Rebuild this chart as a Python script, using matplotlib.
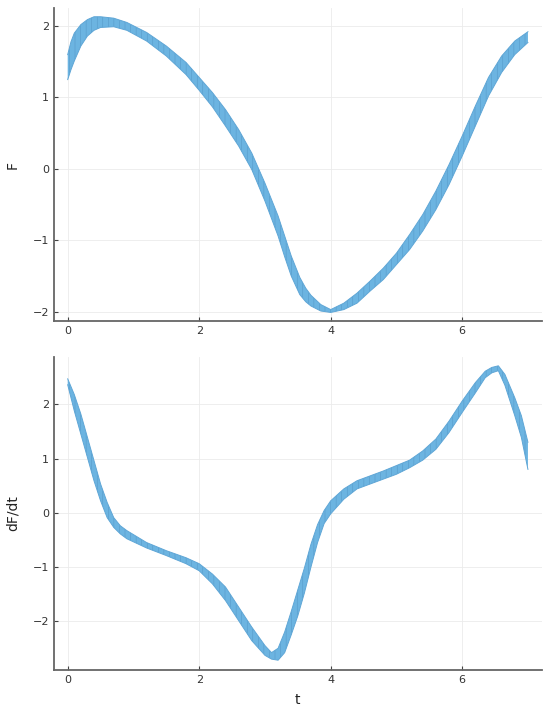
import matplotlib.pyplot as plt

# band edges (lower / upper envelope of the curve family)
t_f = [0.0, 0.05, 0.1, 0.2, 0.3, 0.4, 0.5, 0.7, 0.9, 1.2, 1.5, 1.8, 2.0, 2.2,
       2.4, 2.6, 2.8, 3.0, 3.2, 3.3, 3.4, 3.53, 3.62, 3.7, 3.85, 4.0, 4.2, 4.4,
       4.6, 4.8, 5.0, 5.2, 5.4, 5.6, 5.8, 6.0, 6.2, 6.4, 6.6, 6.8, 7.0]
f_hi = [1.60, 1.78, 1.90, 2.02, 2.09, 2.13, 2.13, 2.11, 2.05, 1.91, 1.72, 1.49,
        1.28, 1.07, 0.83, 0.55, 0.22, -0.20, -0.66, -0.94, -1.22, -1.52, -1.67,
        -1.77, -1.90, -1.97, -1.88, -1.74, -1.57, -1.39, -1.18, -0.92, -0.64,
        -0.31, 0.06, 0.46, 0.88, 1.28, 1.58, 1.79, 1.92]
f_lo = [1.25, 1.39, 1.51, 1.72, 1.86, 1.94, 1.98, 1.99, 1.94, 1.79, 1.58, 1.32,
        1.10, 0.87, 0.60, 0.32, -0.01, -0.45, -0.94, -1.23, -1.50, -1.76, -1.86,
        -1.92, -1.99, -2.01, -1.97, -1.88, -1.71, -1.55, -1.34, -1.13, -0.87,
        -0.57, -0.22, 0.18, 0.60, 1.02, 1.35, 1.60, 1.77]

t_d = [0.0, 0.1, 0.2, 0.3, 0.4, 0.5, 0.6, 0.7, 0.8, 0.9, 1.2, 1.5, 1.8, 2.0,
       2.2, 2.4, 2.6, 2.8, 3.0, 3.1, 3.2, 3.3, 3.4, 3.5, 3.6, 3.7, 3.8, 3.9,
       4.0, 4.2, 4.4, 4.6, 4.8, 5.0, 5.2, 5.4, 5.6, 5.8, 6.0, 6.2, 6.35, 6.45,
       6.55, 6.65, 6.8, 6.9, 7.0]
d_hi = [2.47, 2.18, 1.82, 1.39, 0.96, 0.53, 0.19, -0.09, -0.24, -0.33, -0.55,
        -0.70, -0.83, -0.94, -1.13, -1.37, -1.74, -2.11, -2.45, -2.58, -2.50,
        -2.20, -1.82, -1.42, -1.02, -0.58, -0.22, 0.04, 0.22, 0.44, 0.59, 0.68,
        0.77, 0.87, 0.97, 1.14, 1.36, 1.69, 2.06, 2.40, 2.61, 2.68, 2.71, 2.55,
        2.12, 1.79, 1.30]
d_lo = [2.36, 1.88, 1.45, 1.02, 0.59, 0.22, -0.09, -0.27, -0.39, -0.48, -0.65,
        -0.79, -0.94, -1.07, -1.31, -1.62, -1.99, -2.36, -2.63, -2.70, -2.72,
        -2.58, -2.25, -1.90, -1.48, -1.00, -0.55, -0.20, -0.02, 0.25, 0.44, 0.53,
        0.62, 0.71, 0.83, 0.97, 1.17, 1.48, 1.85, 2.21, 2.49, 2.58, 2.62, 2.35,
        1.79, 1.39, 0.80]

plt.rcParams['hatch.linewidth'] = 0.35

fig = plt.figure(figsize=(5.5, 7.11), dpi=100)
ax1 = fig.add_axes([0.098, 0.5485, 0.887, 0.440])
ax2 = fig.add_axes([0.098, 0.0577, 0.887, 0.440])

panels = [(ax1, t_f, f_lo, f_hi, 'F', (-2.13, 2.25)),
          (ax2, t_d, d_lo, d_hi, 'dF/dt', (-2.9, 2.87))]

for ax, t, lo, hi, label, ylim in panels:
    ax.fill_between(t, lo, hi, facecolor='#6CB4E1', edgecolor='#5497C6',
                    hatch='|||', linewidth=0)
    ax.plot(t, hi, color='#5FA6D6', linewidth=0.7)
    ax.plot(t, lo, color='#5FA6D6', linewidth=0.7)
    ax.set_xlim(-0.21, 7.21)
    ax.set_ylim(*ylim)
    ax.set_xticks([0, 2, 4, 6])
    ax.set_yticks([-2, -1, 0, 1, 2])
    ax.grid(True, color='#ebebeb', linewidth=0.6)
    ax.set_axisbelow(True)
    for side in ['top', 'right']:
        ax.spines[side].set_visible(False)
    for side in ['left', 'bottom']:
        ax.spines[side].set_color('#666666')
        ax.spines[side].set_linewidth(1.3)
    ax.tick_params(direction='in', length=3, width=0.8, colors='#444444',
                   labelsize=8, labelcolor='#333333')
    ax.set_ylabel(label, fontsize=10, color='#222222')
    ax.yaxis.set_label_coords(-0.07, 0.5)

ax2.set_xlabel('t', fontsize=10, color='#222222')
ax2.xaxis.set_label_coords(0.5, -0.075)

fig.savefig('out.png', dpi=100)
